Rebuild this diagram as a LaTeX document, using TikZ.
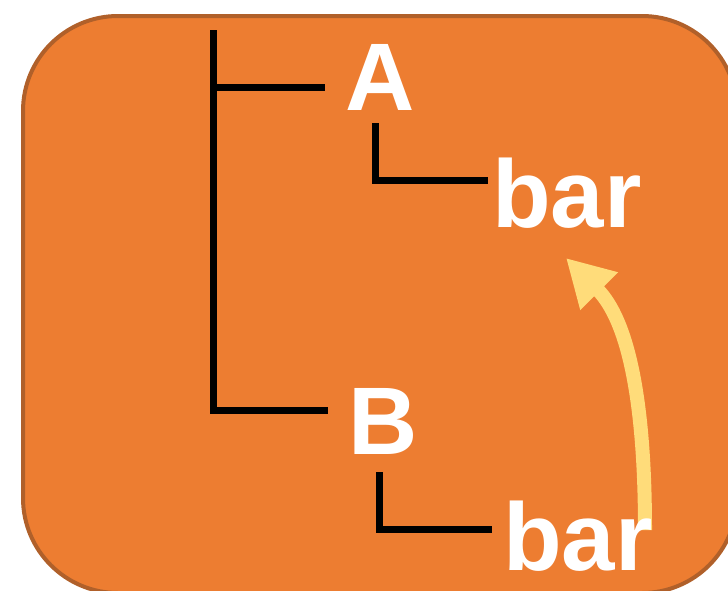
\documentclass[tikz,border=0pt]{standalone}
\usepackage{fontspec}
\setmainfont{Liberation Sans}
\usetikzlibrary{arrows.meta}
\definecolor{boxorange}{HTML}{ED7D31}
\definecolor{boxedge}{HTML}{B0602A}
\definecolor{arrowyellow}{HTML}{FFDC7A}
\tikzset{
  lbl/.style={text=white, font=\bfseries\fontsize{96}{96}\selectfont, inner sep=0pt, anchor=base west},
  tree/.style={draw=black, line width=7pt},
  hint/.style={draw=arrowyellow, line width=14pt, -{Triangle[length=47pt, width=50pt]}}
}
\begin{document}
\begin{tikzpicture}[x=1pt, y=-1pt]
\clip (0,0) rectangle (728,590);
\useasboundingbox (0,0) rectangle (728,590);
\draw[fill=boxorange, draw=boxedge, line width=4pt, rounded corners=95pt] (23,16) rectangle (737,593);
% tree coordinates
\coordinate (rootTop) at (213,30);
\coordinate (rootA) at (213,87);
\coordinate (rootB) at (213,410);
\coordinate (endA) at (325,87);
\coordinate (endB) at (328,410);
\coordinate (aTop) at (375,123);
\coordinate (aCorner) at (375,180);
\coordinate (aEnd) at (488,180);
\coordinate (bTop) at (379,472);
\coordinate (bCorner) at (379,529);
\coordinate (bEnd) at (492,529);
\draw[tree] (rootTop) -- (rootB) -- (endB);
\draw[tree] (rootA) -- (endA);
\draw[tree] (aTop) -- (aCorner) -- (aEnd);
\draw[tree] (bTop) -- (bCorner) -- (bEnd);
% arrow
\coordinate (arrStart) at (645,530);
\coordinate (arrEnd) at (566,258);
\draw[hint] (arrStart) .. controls (645,400) and (628,320) .. (arrEnd);
% labels
\node[lbl] (A) at (345,110) {A};
\node[lbl] (B) at (348,454) {B};
\node[lbl] (bar1) at (492,227) {bar};
\node[lbl] (bar2) at (503,570) {bar};
\end{tikzpicture}
\end{document}
